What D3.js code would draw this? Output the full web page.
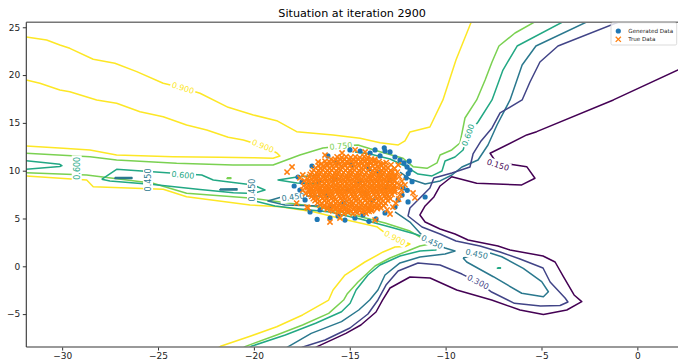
<!DOCTYPE html>
<html><head><meta charset="utf-8">
<script src="https://cdn.jsdelivr.net/npm/d3@7"></script>
<style>
body{margin:0;background:#fff}
svg{display:block}
text{font-family:"DejaVu Sans",sans-serif}
</style>
</head><body>
<svg id="chart" width="678" height="361"></svg>
<script>
// ---- contour levels and axis ticks ----
const levels = [0.15, 0.3, 0.45, 0.6, 0.75, 0.9];
const xTicks = [-30, -25, -20, -15, -10, -5, 0];
const yTicks = [-5, 0, 5, 10, 15, 20, 25];
const xDomain = [-31.87, 2.12];
const yDomain = [-8.44, 25.52];

// ---- contour polylines (data coordinates) ----
const c900top = [[-31.87,23.99],[-30.81,23.67],[-30.12,23.15],[-29.60,22.80],[-28.38,21.65],[-27.25,21.23],[-26.11,20.36],[-24.73,19.14],[-23.70,18.65],[-22.81,18.10],[-21.34,16.63],[-20.03,15.83],[-18.81,15.23],[-17.77,14.08],[-15.87,13.73],[-14.46,13.39],[-13.42,12.93],[-12.47,12.69],[-12.12,13.11],[-11.86,14.05],[-10.82,14.57],[-10.14,17.40],[-9.46,21.58],[-8.67,25.52],[-8.52,26.3]];
const c900tongue = [[-31.87,19.49],[-31.16,19.14],[-30.12,18.44],[-29.60,18.26],[-28.20,17.40],[-27.16,17.05],[-25.94,16.17],[-24.73,15.65],[-23.51,14.78],[-22.46,14.26],[-21.34,13.49],[-20.55,13.21],[-19.53,12.58],[-18.80,11.85],[-18.64,11.54],[-19.00,11.30],[-20.03,11.36],[-21.77,11.40],[-24.22,11.47],[-27.16,11.64],[-28.55,12.17],[-29.94,12.34],[-31.87,12.58]];
const c900low = [[-31.87,9.45],[-28.72,9.03],[-28.38,8.33],[-24.73,8.05],[-23.51,7.28],[-20.20,6.41],[-18.64,6.24],[-16.90,5.71],[-15.16,4.84],[-13.59,4.14],[-13.25,3.62],[-12.64,2.96],[-11.86,2.33],[-12.12,2.07],[-12.64,2.02],[-13.26,1.50],[-14.21,0.45],[-15.25,-0.91],[-15.87,-2.48],[-16.10,-3.53],[-17.46,-5.09],[-18.81,-6.32],[-20.16,-7.29],[-21.74,-8.37],[-22.19,-8.96]];

const c750up = [[-31.87,11.82],[-28.55,11.47],[-27.16,11.12],[-24.03,10.77],[-21.09,10.60],[-19.00,10.60],[-17.60,11.64],[-16.40,12.37],[-15.46,12.58],[-14.57,12.69],[-13.42,11.99],[-12.22,11.30],[-11.70,10.42],[-10.97,10.25],[-10.45,10.81],[-10.29,11.64],[-9.68,12.17],[-9.25,12.90],[-8.99,15.51],[-8.38,17.40],[-7.94,19.49],[-7.58,21.37],[-7.22,23.04],[-6.38,24.40],[-5.39,25.52],[-4.81,26.29]];
const c750low = [[-31.87,9.79],[-28.72,9.55],[-25.26,8.68],[-23.51,7.64],[-20.05,7.11],[-16.72,6.23],[-14.99,5.47],[-13.16,4.53],[-11.86,3.69],[-11.07,2.75],[-10.81,2.33],[-11.34,2.12],[-11.86,1.71],[-12.90,0.87],[-13.68,0.03],[-14.57,-1.64],[-15.14,-2.90],[-15.32,-3.53],[-16.10,-4.92],[-17.46,-6.14],[-18.81,-7.19],[-20.43,-8.37],[-20.93,-9.01]];
const c750dot = [[-21.40,9.27],[-21.20,9.27],[-21.20,9.19],[-21.40,9.19],[-21.40,9.27]];

const c600up = [[-3.25,26.29],[-3.93,25.52],[-6.27,23.04],[-7.01,20.53],[-7.58,17.40],[-8.31,15.09],[-8.83,13.74],[-9.09,12.17],[-9.51,11.43],[-10.03,11.02],[-10.19,9.97],[-10.71,9.45],[-11.44,9.65],[-12.12,10.49],[-12.90,11.22],[-13.94,11.75],[-14.73,11.96]];
const c600edge = [[-31.87,11.05],[-30.12,10.67],[-30.01,10.54],[-30.12,10.44],[-31.87,10.15]];
const c600low = [[-20.53,-8.96],[-20.14,-8.37],[-18.36,-7.19],[-16.78,-5.96],[-15.43,-4.75],[-14.98,-3.87],[-14.67,-2.48],[-14.05,-0.91],[-13.42,0.14],[-12.38,1.08],[-11.34,1.60],[-10.50,1.71],[-10.40,2.02],[-10.71,2.75],[-11.60,3.38],[-12.90,4.11],[-14.46,4.95],[-16.03,5.68],[-17.60,6.00],[-18.90,6.31],[-19.95,6.83],[-20.20,7.25]];
const c600ring = [[-27.94,9.10],[-27.16,10.15],[-24.55,9.79],[-22.72,9.55],[-22.12,9.03],[-20.03,8.50],[-19.42,7.98],[-20.03,7.62],[-21.07,7.70],[-22.81,8.03],[-25.25,8.56],[-27.51,8.92],[-27.94,9.10]];
const c600wedge = [[-16.55,9.55],[-17.75,9.34],[-18.74,9.03],[-17.75,8.71],[-16.55,8.61]];
const c600dot = [[-7.30,-0.15],[-7.14,-0.15],[-7.14,-0.21],[-7.30,-0.21],[-7.30,-0.15]];

const c450up = [[-1.95,26.29],[-2.68,25.52],[-5.29,23.04],[-6.01,21.06],[-6.64,17.40],[-7.32,14.78],[-7.79,12.69],[-8.31,11.12],[-9.15,10.39],[-9.67,9.55],[-10.29,8.93],[-11.07,8.61],[-11.86,9.13],[-12.38,9.86]];
const c450low = [[-12.64,5.68],[-11.86,4.63],[-11.34,3.48],[-10.71,2.54],[-10.03,1.91],[-9.51,1.60],[-10.03,1.29],[-11.34,0.97],[-12.38,0.35],[-13.16,-0.91],[-13.53,-2.48],[-13.96,-3.52],[-14.53,-4.57],[-15.43,-5.79],[-17.01,-7.01],[-18.18,-8.37],[-18.64,-8.96]];
const c450island = [[-9.09,0.87],[-8.90,0.45],[-7.51,-1.09],[-6.03,-2.82],[-4.90,-3.18],[-4.64,-2.66],[-4.99,-1.61],[-5.95,-0.21],[-7.07,1.00],[-7.68,1.39],[-8.38,1.29],[-9.09,0.87]];
const c450dashA = [[-27.25,9.30],[-26.36,9.30],[-26.36,9.18],[-27.25,9.18],[-27.25,9.30]];
const c450dashB = [[-21.77,8.08],[-20.88,8.10],[-20.88,7.97],[-21.77,7.97],[-21.77,8.08]];
const c450wedge = [[-16.55,7.35],[-18.38,7.35],[-19.27,6.83],[-18.38,6.41],[-16.55,6.31]];

const c300 = [[-0.38,26.29],[-1.01,25.52],[-4.14,23.04],[-5.08,21.37],[-5.60,19.28],[-6.01,17.40],[-7.16,16.04],[-7.58,14.47],[-8.15,13.11],[-8.57,11.75],[-8.73,10.39],[-9.67,9.76],[-10.61,9.24],[-10.82,8.19],[-11.34,7.14],[-11.86,6.10],[-11.96,5.26],[-11.23,4.11],[-10.29,3.38],[-9.46,2.65],[-8.21,2.12],[-7.16,1.50],[-6.12,0.76],[-4.92,-0.18],[-4.55,-1.64],[-3.77,-3.32],[-3.62,-3.73],[-4.03,-4.10],[-5.05,-4.15],[-6.41,-3.87],[-7.60,-2.69],[-8.31,-1.64],[-9.15,-0.81],[-10.29,0.14],[-11.44,0.35],[-12.48,-0.49],[-13.11,-1.96],[-13.53,-3.52],[-14.05,-4.99],[-14.99,-6.45],[-16.29,-7.71],[-17.44,-8.44],[-18.01,-8.96]];

const c150 = [[3.27,21.60],[2.12,20.53],[-1.25,17.40],[-5.25,14.08],[-5.77,13.74],[-7.68,11.82],[-7.27,10.60],[-6.54,10.65],[-5.77,10.42],[-5.34,9.21],[-6.03,8.51],[-8.38,8.68],[-9.68,9.37],[-10.29,8.40],[-10.61,7.25],[-11.07,6.31],[-11.34,5.37],[-11.07,4.63],[-10.29,3.90],[-9.51,3.38],[-8.83,2.75],[-7.27,2.12],[-6.64,1.71],[-4.92,1.08],[-4.29,0.45],[-3.88,-1.01],[-3.30,-3.00],[-2.90,-3.70],[-3.68,-4.57],[-4.90,-5.04],[-6.12,-4.57],[-7.60,-3.53],[-9.42,-2.48],[-10.81,-1.22],[-11.86,-1.12],[-12.90,-2.27],[-13.29,-3.53],[-13.63,-4.78],[-14.42,-6.14],[-15.20,-7.01],[-16.67,-8.37],[-17.18,-8.96]];

// inline contour labels: level, position (data), text angle on screen
const contourLabels = [
  {level:0.9, x:-23.70, y:18.65, angle:17},
  {level:0.9, x:-19.53, y:12.58, angle:22},
  {level:0.9, x:-12.64, y:2.96, angle:28},
  {level:0.75, x:-15.46, y:12.58, angle:-5},
  {level:0.6, x:-8.83, y:13.74, angle:-70},
  {level:0.6, x:-29.24, y:10.25, angle:-90},
  {level:0.6, x:-23.70, y:9.55, angle:5},
  {level:0.45, x:-25.52, y:9.03, angle:-90},
  {level:0.45, x:-20.10, y:7.98, angle:-90},
  {level:0.45, x:-17.96, y:7.25, angle:-8},
  {level:0.45, x:-10.71, y:2.54, angle:25},
  {level:0.45, x:-8.38, y:1.29, angle:12},
  {level:0.3, x:-8.31, y:-1.64, angle:27},
  {level:0.15, x:-7.27, y:10.60, angle:17}
];

// ---- scatter samples ----
const generatedData = [[-17.70,9.34],[-12.01,10.39],[-11.96,6.73],[-11.07,7.25],[-16.55,5.89],[-14.31,5.37],[-12.64,6.20],[-13.94,11.85],[-12.38,11.12],[-13.42,11.54],[-12.90,11.96],[-12.64,11.43],[-12.17,10.81],[-11.86,10.07],[-17.33,6.94],[-17.07,5.68],[-16.03,5.05],[-15.25,4.84],[-13.63,4.95],[-13.16,5.58],[-12.27,7.46],[-17.60,7.98],[-17.49,8.82],[-16.97,10.49],[-16.14,11.54],[-14.99,12.17],[-14.46,12.06],[-13.68,12.17],[-13.16,12.06],[-12.06,9.24],[-12.22,8.19],[-12.48,6.94],[-14.73,5.05],[-15.61,5.26],[-15.8,9.1],[-14.2,7.6],[-13.5,9.8],[-16.2,7.4],[-14.9,10.6],[-15.3,6.6],[-13.1,8.3],[-16.6,8.9],[-14.5,8.9],[-15.7,10.9],[-13.8,6.9],[-14.0,10.2],[-16.0,6.2],[-12.9,9.0],[-15.1,8.0],[-11.75,8.85],[-11.95,9.70],[-12.00,7.95],[-11.90,11.00],[-13.20,12.40],[-16.70,4.90],[-14.00,4.70],[-17.90,8.40]];

const trueData = [
[-15.58,5.61],[-15.31,5.52],[-15.09,5.63],[-14.84,5.49],[-14.62,5.58],[-14.37,5.66],[-14.15,5.54],
[-15.88,5.80],[-15.63,5.74],[-15.40,5.82],[-15.17,5.76],[-14.93,5.79],[-14.70,5.73],[-14.46,5.83],[-14.22,5.77],[-13.99,5.75],[-13.86,5.81],
[-16.18,5.98],[-15.97,5.91],[-15.71,6.02],[-15.49,5.93],[-15.22,5.99],[-15.01,5.88],[-14.76,6.04],[-14.52,5.95],[-14.29,5.87],[-14.03,6.01],[-13.81,5.92],[-13.57,6.03],
[-16.37,6.19],[-16.13,6.14],[-15.90,6.21],[-15.66,6.15],[-15.43,6.18],[-15.19,6.12],[-14.96,6.22],[-14.72,6.16],[-14.48,6.13],[-14.25,6.20],[-14.01,6.14],[-13.78,6.23],[-13.54,6.17],[-13.38,6.12],
[-16.55,6.41],[-16.31,6.34],[-16.08,6.45],[-15.83,6.36],[-15.61,6.42],[-15.36,6.31],[-15.14,6.40],[-14.89,6.47],[-14.65,6.35],[-14.42,6.43],[-14.18,6.33],[-13.95,6.44],[-13.71,6.37],[-13.46,6.41],[-13.22,6.34],
[-16.68,6.63],[-16.45,6.57],[-16.21,6.65],[-15.98,6.59],[-15.74,6.62],[-15.51,6.56],[-15.27,6.66],[-15.03,6.60],[-14.80,6.57],[-14.56,6.64],[-14.33,6.58],[-14.09,6.67],[-13.85,6.61],[-13.62,6.55],[-13.38,6.63],[-13.14,6.59],
[-16.81,6.86],[-16.58,6.79],[-16.33,6.88],[-16.12,6.81],[-15.87,6.85],[-15.64,6.77],[-15.41,6.89],[-15.17,6.82],[-14.93,6.78],[-14.70,6.87],[-14.46,6.80],[-14.22,6.90],[-13.99,6.83],[-13.75,6.76],[-13.51,6.86],[-13.27,6.81],[-13.02,6.88],
[-16.90,7.08],[-16.66,7.02],[-16.43,7.10],[-16.19,7.04],[-15.96,7.07],[-15.72,7.01],[-15.48,7.11],[-15.25,7.05],[-15.01,7.02],[-14.78,7.09],[-14.54,7.03],[-14.30,7.12],[-14.07,7.06],[-13.83,7.00],[-13.60,7.08],[-13.36,7.04],[-13.12,7.10],[-12.88,7.05],
[-16.98,7.31],[-16.74,7.24],[-16.51,7.33],[-16.27,7.26],[-16.05,7.30],[-15.80,7.22],[-15.56,7.34],[-15.33,7.27],[-15.09,7.23],[-14.85,7.32],[-14.62,7.25],[-14.38,7.35],[-14.14,7.28],[-13.91,7.21],[-13.66,7.30],[-13.43,7.26],[-13.19,7.33],[-12.95,7.27],
[-17.05,7.53],[-16.82,7.47],[-16.58,7.55],[-16.35,7.49],[-16.11,7.52],[-15.88,7.46],[-15.64,7.56],[-15.40,7.50],[-15.17,7.47],[-14.93,7.54],[-14.70,7.48],[-14.46,7.57],[-14.22,7.51],[-13.99,7.45],[-13.75,7.53],[-13.52,7.49],[-13.28,7.55],[-13.04,7.48],[-12.80,7.52],
[-17.12,7.77],[-16.89,7.70],[-16.64,7.79],[-16.42,7.72],[-16.18,7.76],[-15.95,7.68],[-15.71,7.80],[-15.47,7.73],[-15.24,7.69],[-15.00,7.78],[-14.76,7.71],[-14.53,7.81],[-14.29,7.74],[-14.05,7.67],[-13.82,7.77],[-13.58,7.72],[-13.34,7.79],[-13.11,7.70],[-12.87,7.76],[-12.65,7.73],
[-17.15,7.99],[-16.91,7.93],[-16.68,8.01],[-16.44,7.95],[-16.21,7.98],[-15.97,7.92],[-15.74,8.02],[-15.50,7.96],[-15.26,7.93],[-15.03,8.00],[-14.79,7.94],[-14.56,8.03],[-14.32,7.97],[-14.08,7.91],[-13.85,7.99],[-13.61,7.95],[-13.38,8.01],[-13.14,7.94],[-12.90,7.98],[-12.66,7.96],
[-17.20,8.23],[-16.97,8.16],[-16.72,8.25],[-16.50,8.18],[-16.26,8.22],[-16.03,8.14],[-15.79,8.26],[-15.55,8.19],[-15.32,8.15],[-15.08,8.24],[-14.84,8.17],[-14.61,8.27],[-14.37,8.20],[-14.13,8.13],[-13.90,8.23],[-13.66,8.18],[-13.42,8.25],[-13.19,8.16],[-12.95,8.22],[-12.71,8.19],[-12.55,8.26],
[-17.19,8.45],[-16.95,8.39],[-16.72,8.47],[-16.48,8.41],[-16.25,8.44],[-16.01,8.38],[-15.78,8.48],[-15.54,8.42],[-15.30,8.39],[-15.07,8.46],[-14.83,8.40],[-14.60,8.49],[-14.36,8.43],[-14.12,8.37],[-13.89,8.45],[-13.65,8.41],[-13.42,8.47],[-13.18,8.40],[-12.94,8.44],[-12.70,8.42],
[-17.24,8.69],[-17.01,8.62],[-16.77,8.71],[-16.54,8.64],[-16.30,8.68],[-16.07,8.60],[-15.83,8.72],[-15.59,8.65],[-15.36,8.61],[-15.12,8.70],[-14.88,8.63],[-14.65,8.73],[-14.41,8.66],[-14.17,8.59],[-13.94,8.69],[-13.70,8.64],[-13.46,8.71],[-13.23,8.62],[-12.99,8.68],[-12.76,8.65],[-12.54,8.70],
[-17.17,8.91],[-16.93,8.85],[-16.70,8.93],[-16.46,8.87],[-16.23,8.90],[-15.99,8.84],[-15.76,8.94],[-15.52,8.88],[-15.28,8.85],[-15.05,8.92],[-14.81,8.86],[-14.58,8.95],[-14.34,8.89],[-14.10,8.83],[-13.87,8.91],[-13.63,8.87],[-13.40,8.93],[-13.16,8.86],[-12.92,8.90],[-12.68,8.88],
[-17.19,9.15],[-16.95,9.08],[-16.71,9.17],[-16.49,9.10],[-16.24,9.14],[-16.01,9.06],[-15.77,9.18],[-15.53,9.11],[-15.30,9.07],[-15.06,9.16],[-14.82,9.09],[-14.59,9.19],[-14.35,9.12],[-14.11,9.05],[-13.88,9.15],[-13.64,9.10],[-13.40,9.17],[-13.17,9.08],[-12.93,9.14],[-12.69,9.11],
[-17.10,9.37],[-16.86,9.31],[-16.63,9.39],[-16.39,9.33],[-16.16,9.36],[-15.92,9.30],[-15.69,9.40],[-15.45,9.34],[-15.21,9.31],[-14.98,9.38],[-14.74,9.32],[-14.51,9.41],[-14.27,9.35],[-14.03,9.29],[-13.80,9.37],[-13.56,9.33],[-13.33,9.39],[-13.09,9.32],[-12.85,9.36],[-12.66,9.34],
[-17.06,9.61],[-16.83,9.54],[-16.58,9.63],[-16.36,9.56],[-16.12,9.60],[-15.89,9.52],[-15.65,9.64],[-15.41,9.57],[-15.18,9.53],[-14.94,9.62],[-14.70,9.55],[-14.47,9.65],[-14.23,9.58],[-13.99,9.51],[-13.76,9.61],[-13.52,9.56],[-13.28,9.63],[-13.05,9.54],[-12.81,9.60],
[-16.97,9.83],[-16.73,9.77],[-16.50,9.85],[-16.26,9.79],[-16.03,9.82],[-15.79,9.76],[-15.56,9.86],[-15.32,9.80],[-15.08,9.77],[-14.85,9.84],[-14.61,9.78],[-14.38,9.87],[-14.14,9.81],[-13.90,9.75],[-13.67,9.83],[-13.43,9.79],[-13.20,9.85],[-12.96,9.78],[-12.78,9.82],
[-16.88,10.07],[-16.64,10.00],[-16.40,10.09],[-16.18,10.02],[-15.94,10.06],[-15.71,9.98],[-15.47,10.10],[-15.23,10.03],[-15.00,9.99],[-14.76,10.08],[-14.52,10.01],[-14.29,10.11],[-14.05,10.04],[-13.81,9.97],[-13.58,10.07],[-13.34,10.02],[-13.10,10.09],[-12.88,10.00],
[-16.78,10.29],[-16.54,10.23],[-16.31,10.31],[-16.07,10.25],[-15.84,10.28],[-15.60,10.22],[-15.37,10.32],[-15.13,10.26],[-14.89,10.23],[-14.66,10.30],[-14.42,10.24],[-14.19,10.33],[-13.95,10.27],[-13.71,10.21],[-13.48,10.29],[-13.24,10.25],[-13.00,10.30],
[-16.63,10.53],[-16.39,10.46],[-16.15,10.55],[-15.93,10.48],[-15.69,10.52],[-15.46,10.44],[-15.22,10.56],[-14.98,10.49],[-14.75,10.45],[-14.51,10.54],[-14.27,10.47],[-14.04,10.57],[-13.80,10.50],[-13.56,10.43],[-13.33,10.53],[-13.12,10.48],
[-16.47,10.75],[-16.23,10.69],[-16.00,10.77],[-15.76,10.71],[-15.53,10.74],[-15.29,10.68],[-15.06,10.78],[-14.82,10.72],[-14.58,10.69],[-14.35,10.76],[-14.11,10.70],[-13.88,10.79],[-13.64,10.73],[-13.40,10.67],[-13.25,10.74],
[-16.29,10.99],[-16.05,10.92],[-15.82,11.01],[-15.59,10.94],[-15.35,10.98],[-15.12,10.90],[-14.88,11.02],[-14.64,10.95],[-14.41,10.91],[-14.17,11.00],[-13.93,10.93],[-13.70,11.03],[-13.47,10.96],
[-15.98,11.21],[-15.74,11.15],[-15.51,11.23],[-15.27,11.17],[-15.04,11.20],[-14.80,11.14],[-14.57,11.24],[-14.33,11.18],[-14.09,11.15],[-13.86,11.22],[-13.70,11.17],
[-15.66,11.45],[-15.42,11.38],[-15.19,11.47],[-14.95,11.40],[-14.72,11.44],[-14.48,11.36],[-14.25,11.46],[-14.06,11.41],
[-12.45,7.02],[-12.38,7.48],[-12.30,7.95],[-12.33,8.45],[-12.28,8.92],[-12.41,9.38],[-12.52,9.85],[-12.66,10.25],[-12.85,10.62],[-13.10,10.85],[-12.60,6.60],[-12.75,6.20],[-13.05,5.90],[-17.40,8.40],[-17.36,8.95],[-17.30,7.60],[-17.45,9.55],
[-18.27,9.86],[-16.29,11.64],[-15.40,11.85],[-15.51,5.05],[-17.23,6.20],[-11.70,7.67],[-11.60,7.15],[-14.72,12.17],[-14.20,11.96],[-17.60,9.24],[-17.44,7.98],[-12.64,9.55],[-12.12,8.51],[-16.03,4.63],[-13.68,4.84],[-12.90,5.47],[-16.65,10.91],[-12.47,10.60],[-18.01,10.39],[-17.77,6.62],[-17.18,6.10]
];

const contourSets = [
  {level:0.9, paths:[c900top, c900tongue, c900low]},
  {level:0.75, paths:[c750up, c750low, c750dot]},
  {level:0.6, paths:[c600up, c600edge, c600low, c600ring, c600wedge, c600dot]},
  {level:0.45, paths:[c450up, c450low, c450island, c450dashA, c450dashB, c450wedge]},
  {level:0.3, paths:[c300]},
  {level:0.15, paths:[c150]}
];

// ---- layout ----
const svg = d3.select("#chart");
const plot = {left:26.3, right:678, top:22.3, bottom:347};
const x = d3.scaleLinear().domain(xDomain).range([plot.left, plot.right]);
const y = d3.scaleLinear().domain(yDomain).range([plot.bottom, plot.top]);
const color = d3.scaleSequential(d3.interpolateViridis).domain([levels[0], levels[levels.length-1]]);
const fmt = d3.format(".3f");

const defs = svg.append("defs");
defs.append("clipPath").attr("id","plotClip").append("rect")
  .attr("x",plot.left).attr("y",plot.top)
  .attr("width",plot.right-plot.left).attr("height",plot.bottom-plot.top);
const mask = defs.append("mask").attr("id","labelGaps").attr("maskUnits","userSpaceOnUse")
  .attr("x",0).attr("y",0).attr("width",678).attr("height",361);
mask.append("rect").attr("width",678).attr("height",361).attr("fill","#fff");

// title
svg.append("text").attr("x",(plot.left+plot.right)/2).attr("y",17)
  .attr("text-anchor","middle").attr("font-size",11.2).attr("fill","#000")
  .text("Situation at iteration 2900");

const plotG = svg.append("g").attr("clip-path","url(#plotClip)");

// contour lines
const line = d3.line().x(d=>x(d[0])).y(d=>y(d[1]));
const linesG = plotG.append("g").attr("mask","url(#labelGaps)");
contourSets.forEach(set=>{
  linesG.selectAll(null).data(set.paths).join("path")
    .attr("d",line).attr("fill","none")
    .attr("stroke",color(set.level)).attr("stroke-width",1.5)
    .attr("stroke-linejoin","round");
});

// contour labels
const labelG = plotG.append("g");
const labels = labelG.selectAll("text").data(contourLabels).join("text")
  .attr("transform",d=>`translate(${x(d.x)},${y(d.y)}) rotate(${d.angle})`)
  .attr("text-anchor","middle").attr("dy","0.35em")
  .attr("font-size",8).attr("fill",d=>color(d.level))
  .text(d=>fmt(d.level));
labels.each(function(d){
  const w = this.getComputedTextLength()+3;
  mask.append("rect")
    .attr("x",-w/2).attr("y",-5).attr("width",w).attr("height",10)
    .attr("fill","#000")
    .attr("transform",`translate(${x(d.x)},${y(d.y)}) rotate(${d.angle})`);
});

// scatter: generated samples then true samples
plotG.append("g").selectAll("circle").data(generatedData).join("circle")
  .attr("cx",d=>x(d[0])).attr("cy",d=>y(d[1])).attr("r",2.6)
  .attr("fill","#1f77b4");
const xs = 2.6;
plotG.append("g").selectAll("path").data(trueData).join("path")
  .attr("d",d=>{const cx=x(d[0]), cy=y(d[1]);
    return `M${cx-xs},${cy-xs}L${cx+xs},${cy+xs}M${cx-xs},${cy+xs}L${cx+xs},${cy-xs}`;})
  .attr("stroke","#ff7f0e").attr("stroke-width",1.5).attr("fill","none");

// axes
const xAxis = svg.append("g").attr("transform",`translate(0,${plot.bottom})`)
  .call(d3.axisBottom(x).tickValues(xTicks).tickSize(3.5).tickPadding(2.5));
const yAxis = svg.append("g").attr("transform",`translate(${plot.left},0)`)
  .call(d3.axisLeft(y).tickValues(yTicks).tickSize(3.5).tickPadding(2.5));
[xAxis,yAxis].forEach(a=>{
  a.select(".domain").remove();
  a.selectAll(".tick line").attr("stroke","#333");
  a.selectAll(".tick text").attr("font-size",9).attr("fill","#222")
    .attr("font-family","DejaVu Sans, sans-serif");
});

// spines
svg.append("line").attr("x1",plot.left).attr("x2",plot.right).attr("y1",plot.bottom).attr("y2",plot.bottom)
  .attr("stroke","#777").attr("stroke-width",1.6);
svg.append("line").attr("x1",plot.left).attr("x2",plot.right).attr("y1",plot.top).attr("y2",plot.top)
  .attr("stroke","#777").attr("stroke-width",1.4);
svg.append("line").attr("x1",plot.left).attr("x2",plot.left).attr("y1",plot.top).attr("y2",plot.bottom)
  .attr("stroke","#333").attr("stroke-width",1.1);

// legend
const lg = svg.append("g").attr("transform","translate(611,22.7)");
lg.append("rect").attr("width",65.7).attr("height",22.3).attr("rx",1.5)
  .attr("fill","#fff").attr("fill-opacity",0.8).attr("stroke","#ccc").attr("stroke-width",0.7);
lg.append("circle").attr("cx",7.3).attr("cy",8.3).attr("r",2.6).attr("fill","#1f77b4");
lg.append("path").attr("d",`M${7.3-xs},${16.6-xs}L${7.3+xs},${16.6+xs}M${7.3-xs},${16.6+xs}L${7.3+xs},${16.6-xs}`)
  .attr("stroke","#ff7f0e").attr("stroke-width",1.3);
lg.append("text").attr("x",17.3).attr("y",10.3).attr("font-size",5.6).attr("fill","#222").text("Generated Data");
lg.append("text").attr("x",17.3).attr("y",18.6).attr("font-size",5.6).attr("fill","#222").text("True Data");
</script>
</body></html>
